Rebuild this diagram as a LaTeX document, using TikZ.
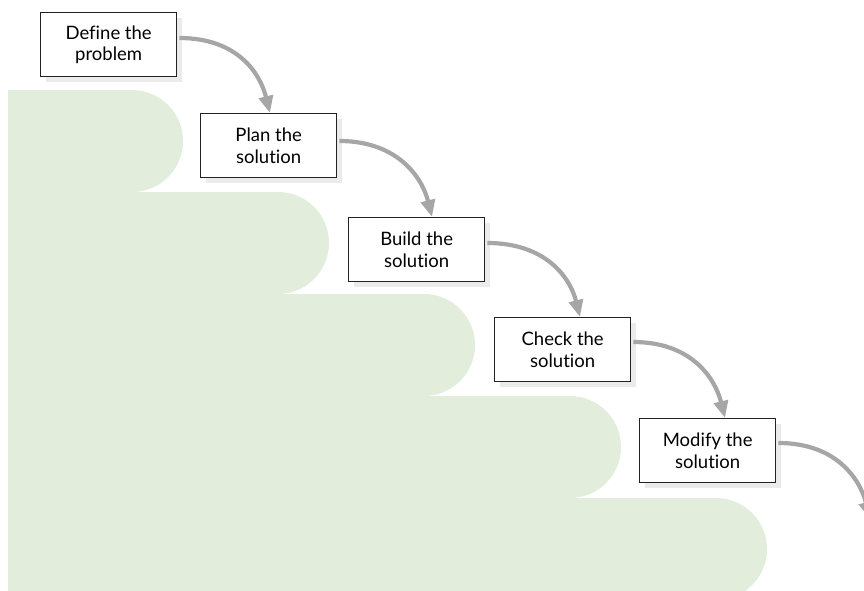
\documentclass[tikz,border=0pt]{standalone}
\usepackage{fontspec}
\setmainfont{Lato}[Ligatures={NoCommon,NoContextual,NoDiscretionary}]
\usetikzlibrary{arrows.meta,calc,shadows}
\definecolor{stepgreen}{RGB}{226,237,220}
\definecolor{shadowgray}{RGB}{235,235,235}
\definecolor{arrowgray}{RGB}{166,166,166}
\definecolor{boxline}{RGB}{34,34,34}
\tikzset{
  x=1pt, y=-1pt,
  stage/.style={draw=boxline, line width=1.3pt, fill=white,
    minimum width=136pt, minimum height=64pt, inner sep=2pt,
    anchor=north west, align=center,
    font=\fontsize{18.5}{21.5}\selectfont,
    general shadow={fill=shadowgray, shadow xshift=5pt, shadow yshift=-5pt}},
  flow/.style={draw=arrowgray, line width=4.2pt,
    -{Triangle[width=14pt,length=17pt]}},
}
\begin{document}
\begin{tikzpicture}
\useasboundingbox (0,0) rectangle (864,591);
\clip (0,0) rectangle (864,591);

% staircase background: five steps with rounded right ends
\foreach \i in {0,...,4}{
  \pgfmathsetmacro{\top}{90+102*\i}
  \pgfmathsetmacro{\cx}{132+146*\i}
  \fill[stepgreen] (8,\top) rectangle (\cx,\top+102);
  \fill[stepgreen] (\cx,\top+51) circle (51pt);
}

% process stages
\node[stage] (b1) at (40,12)  {Define the\\problem};
\node[stage] (b2) at (200,113) {Plan the\\solution};
\node[stage] (b3) at (348,217) {Build the\\solution};
\node[stage] (b4) at (494,317) {Check the\\solution};
\node[stage] (b5) at (639,418) {Modify the\\solution};

% connector end points
\coordinate (s1) at ($(b1.north east)+(2,26)$);
\coordinate (s2) at ($(b2.north east)+(2,28)$);
\coordinate (s3) at ($(b3.north east)+(2,26)$);
\coordinate (s4) at ($(b4.north east)+(2,25)$);
\coordinate (s5) at ($(b5.north east)+(2,25)$);
\coordinate (e2) at ($(b2.north west)+(70,0)$);
\coordinate (e3) at ($(b3.north west)+(84,0)$);
\coordinate (e4) at ($(b4.north west)+(86,0)$);
\coordinate (e5) at ($(b5.north west)+(86,0)$);
\coordinate (e6) at ($(b5.north west)+(231,101)$);

\draw[flow] (s1) .. controls +(58,0) and +(-10,-40) .. (e2);
\draw[flow] (s2) .. controls +(58,0) and +(-10,-40) .. (e3);
\draw[flow] (s3) .. controls +(58,0) and +(-10,-40) .. (e4);
\draw[flow] (s4) .. controls +(58,0) and +(-10,-40) .. (e5);
\draw[flow] (s5) .. controls +(58,0) and +(-10,-40) .. (e6);
\end{tikzpicture}
\end{document}
